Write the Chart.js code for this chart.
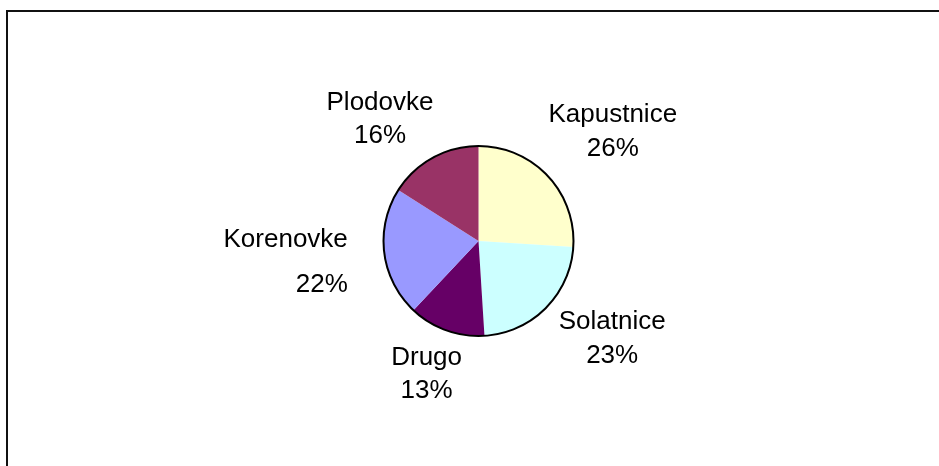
<!DOCTYPE html>
<html>
<head>
<meta charset="utf-8">
<script src="https://cdn.jsdelivr.net/npm/chart.js@4"></script>
<style>
  body { margin: 0; background: #fff; }
  canvas { display: block; }
</style>
</head>
<body>
<canvas id="pie" width="939" height="466"></canvas>
<script>
const categories = ["Kapustnice", "Solatnice", "Drugo", "Korenovke", "Plodovke"];
const shares = [26, 23, 13, 22, 16];
const sliceColors = ["#FFFFCC", "#CCFFFF", "#660066", "#9999FF", "#993366"];

// label placement tweaks (excel puts them a bit off the mid-angle)
const labelNudge = [[14, 11], [17, -12], [4, -15], [33, 8], [-19, 30]];
const labelGap = [34, 34, 33, 45, 33];
const labelAlign = ["center", "center", "center", "right", "center"];

const frame = {
  id: "frame",
  beforeDraw(chart) {
    const ctx = chart.ctx;
    ctx.save();
    ctx.fillStyle = "#fff";
    ctx.fillRect(0, 0, chart.width, chart.height);
    ctx.fillStyle = "#111";
    ctx.fillRect(6, 10, chart.width - 6, 2);
    ctx.fillRect(6, 10, 2, chart.height - 10);
    ctx.restore();
  }
};

const outline = {
  id: "outline",
  afterDatasetsDraw(chart) {
    const ctx = chart.ctx;
    const meta = chart.getDatasetMeta(0);
    const arc = meta.data[0];
    const total = shares.reduce((a, b) => a + b, 0);
    ctx.save();
    ctx.beginPath();
    ctx.arc(arc.x, arc.y, arc.outerRadius, 0, Math.PI * 2);
    ctx.lineWidth = 2;
    ctx.strokeStyle = "#000";
    ctx.stroke();

    ctx.fillStyle = "#000";
    ctx.font = "26px 'Liberation Sans', Arial, sans-serif";
    ctx.textBaseline = "alphabetic";
    meta.data.forEach((a, i) => {
      const mid = (a.startAngle + a.endAngle) / 2;
      const d = a.outerRadius + 70;
      const x = a.x + d * Math.cos(mid) + labelNudge[i][0];
      const y = a.y + d * Math.sin(mid) + labelNudge[i][1];
      const pct = Math.round(shares[i] / total * 100) + "%";
      ctx.textAlign = labelAlign[i];
      ctx.fillText(categories[i], x, y - labelGap[i] / 2);
      ctx.fillText(pct, x, y + labelGap[i] / 2);
    });
    ctx.restore();
  }
};

new Chart(document.getElementById("pie"), {
  type: "pie",
  data: {
    labels: categories,
    datasets: [{
      data: shares,
      backgroundColor: sliceColors,
      borderWidth: 0
    }]
  },
  options: {
    responsive: false,
    animation: false,
    layout: { padding: { left: 18, right: 0, top: 146, bottom: 130 } },
    plugins: {
      legend: { display: false },
      tooltip: { enabled: false }
    }
  },
  plugins: [frame, outline]
});
</script>
</body>
</html>
